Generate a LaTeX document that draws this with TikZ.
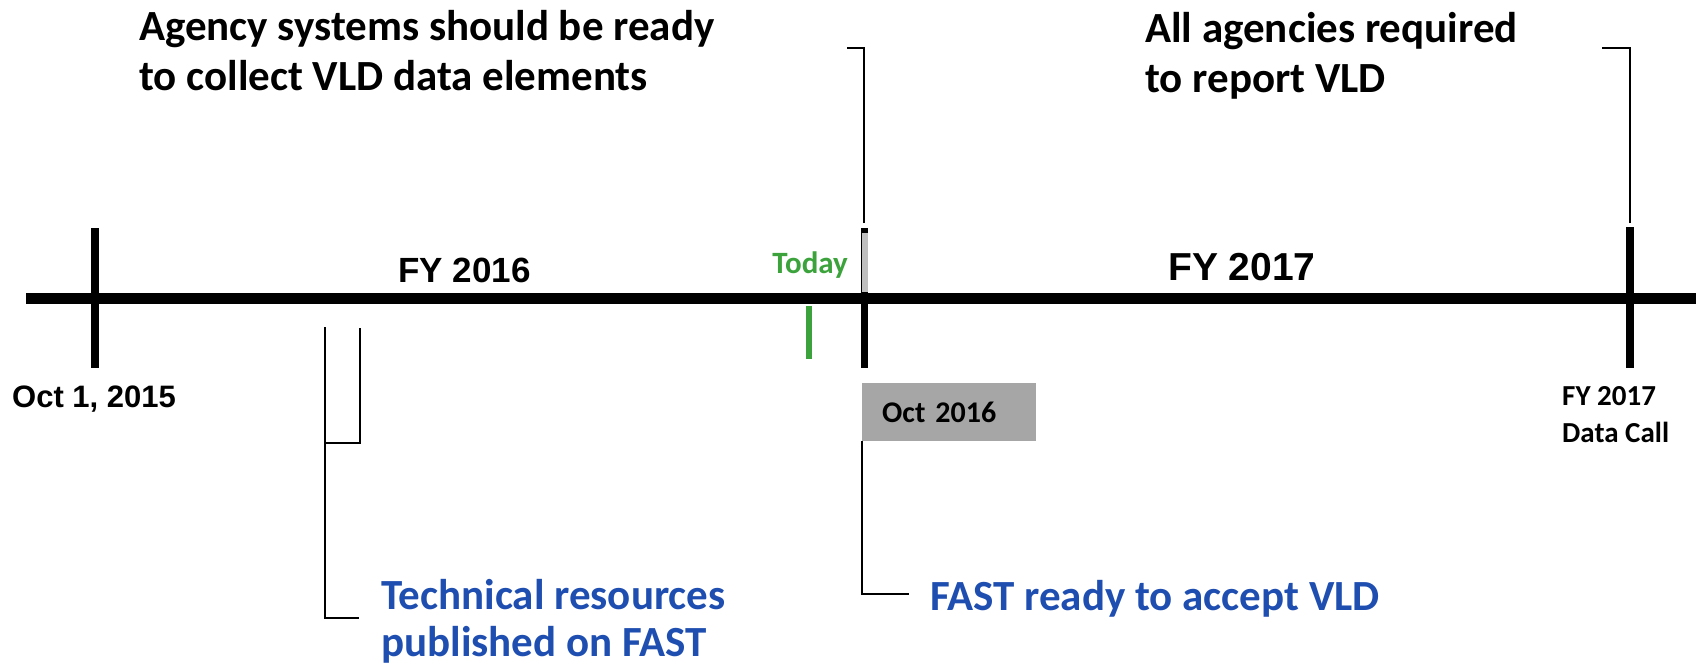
\documentclass[tikz,border=0pt]{standalone}
\usepackage{fontspec}
\setmainfont{Carlito}
\newfontfamily\arialfont{Liberation Sans}
\definecolor{fastblue}{RGB}{31,78,177}
\definecolor{todaygreen}{RGB}{60,163,60}
\definecolor{boxgrey}{RGB}{166,166,166}
\definecolor{tickgrey}{RGB}{191,191,191}

\begin{document}
\begin{tikzpicture}[x=1pt,y=-1pt,
  lbl/.style={inner sep=0pt,anchor=base west,font=\bfseries},
  tick/.style={line width=7.5pt},
  bracket/.style={line width=2.5pt}]
\useasboundingbox (0,0) rectangle (1696,667);

\coordinate (left) at (26,298);
\coordinate (right) at (1696,298);
\path[draw,line width=11pt] (left) -- (right);

\coordinate (s1) at (95,228);
\coordinate (e1) at (95,368);
\path[draw,tick] (s1) -- (e1);
\coordinate (s2) at (864.5,228);
\coordinate (e2) at (864.5,368);
\path[draw,tick] (s2) -- (e2);
\path[draw,tickgrey,line width=6pt] (864.5,233) -- (864.5,292);
\coordinate (s3) at (1630,227);
\coordinate (e3) at (1630,368);
\path[draw,tick] (s3) -- (e3);
\coordinate (g1) at (809,306);
\coordinate (g2) at (809,359);
\path[draw,todaygreen,line width=6pt] (g1) -- (g2);

\node[lbl,font=\arialfont\bfseries\fontsize{31}{36}\selectfont] (start) at (12,407) {Oct 1, 2015};
\node[lbl,font=\arialfont\bfseries\fontsize{35}{40}\selectfont] (fysix) at (398,282) {FY 2016};
\node[lbl,font=\arialfont\bfseries\fontsize{39}{44}\selectfont] (fyseven) at (1168,280) {FY 2017};
\node[lbl,anchor=base east,text=todaygreen,font=\bfseries\fontsize{31}{36}\selectfont] (today) at (848,273) {Today};

\node[fill=boxgrey,anchor=north west,inner xsep=20pt,inner ysep=0pt,text width=134pt,minimum height=58pt,align=left,font=\bfseries\fontsize{30}{36}\selectfont] (octsix) at (862,383) {Oct 2016};
\node[lbl,align=left,font=\bfseries\fontsize{29}{37}\selectfont] (datacall) at (1562,442) {FY 2017\\Data Call};

\node[lbl,align=left,font=\bfseries\fontsize{43}{50}\selectfont] (agency) at (139,90) {Agency systems should be ready\\to collect VLD data elements};
\node[lbl,align=left,font=\bfseries\fontsize{43}{50}\selectfont] (report) at (1145,92) {All agencies required\\to report VLD};
\node[lbl,align=left,text=fastblue,font=\bfseries\fontsize{43}{47}\selectfont] (techres) at (381,656) {Technical resources\\published on FAST};
\node[lbl,text=fastblue,font=\bfseries\fontsize{43}{50}\selectfont] (fast) at (930,610) {FAST ready to accept VLD};

\coordinate (a2) at (864,223);
\coordinate (b2) at (847,48);
\path[draw,bracket] (a2) |- (b2);
\coordinate (a3) at (1630,223);
\coordinate (b3) at (1602,48);
\path[draw,bracket] (a3) |- (b3);
\coordinate (c1) at (360,328);
\coordinate (c2) at (325,443);
\path[draw,bracket] (c1) |- (c2);
\coordinate (d1) at (325,327);
\coordinate (d2) at (359,618);
\path[draw,bracket] (d1) |- (d2);
\coordinate (f2) at (909,594);
\path[draw,bracket] (octsix.south west) |- (f2);
\end{tikzpicture}
\end{document}
